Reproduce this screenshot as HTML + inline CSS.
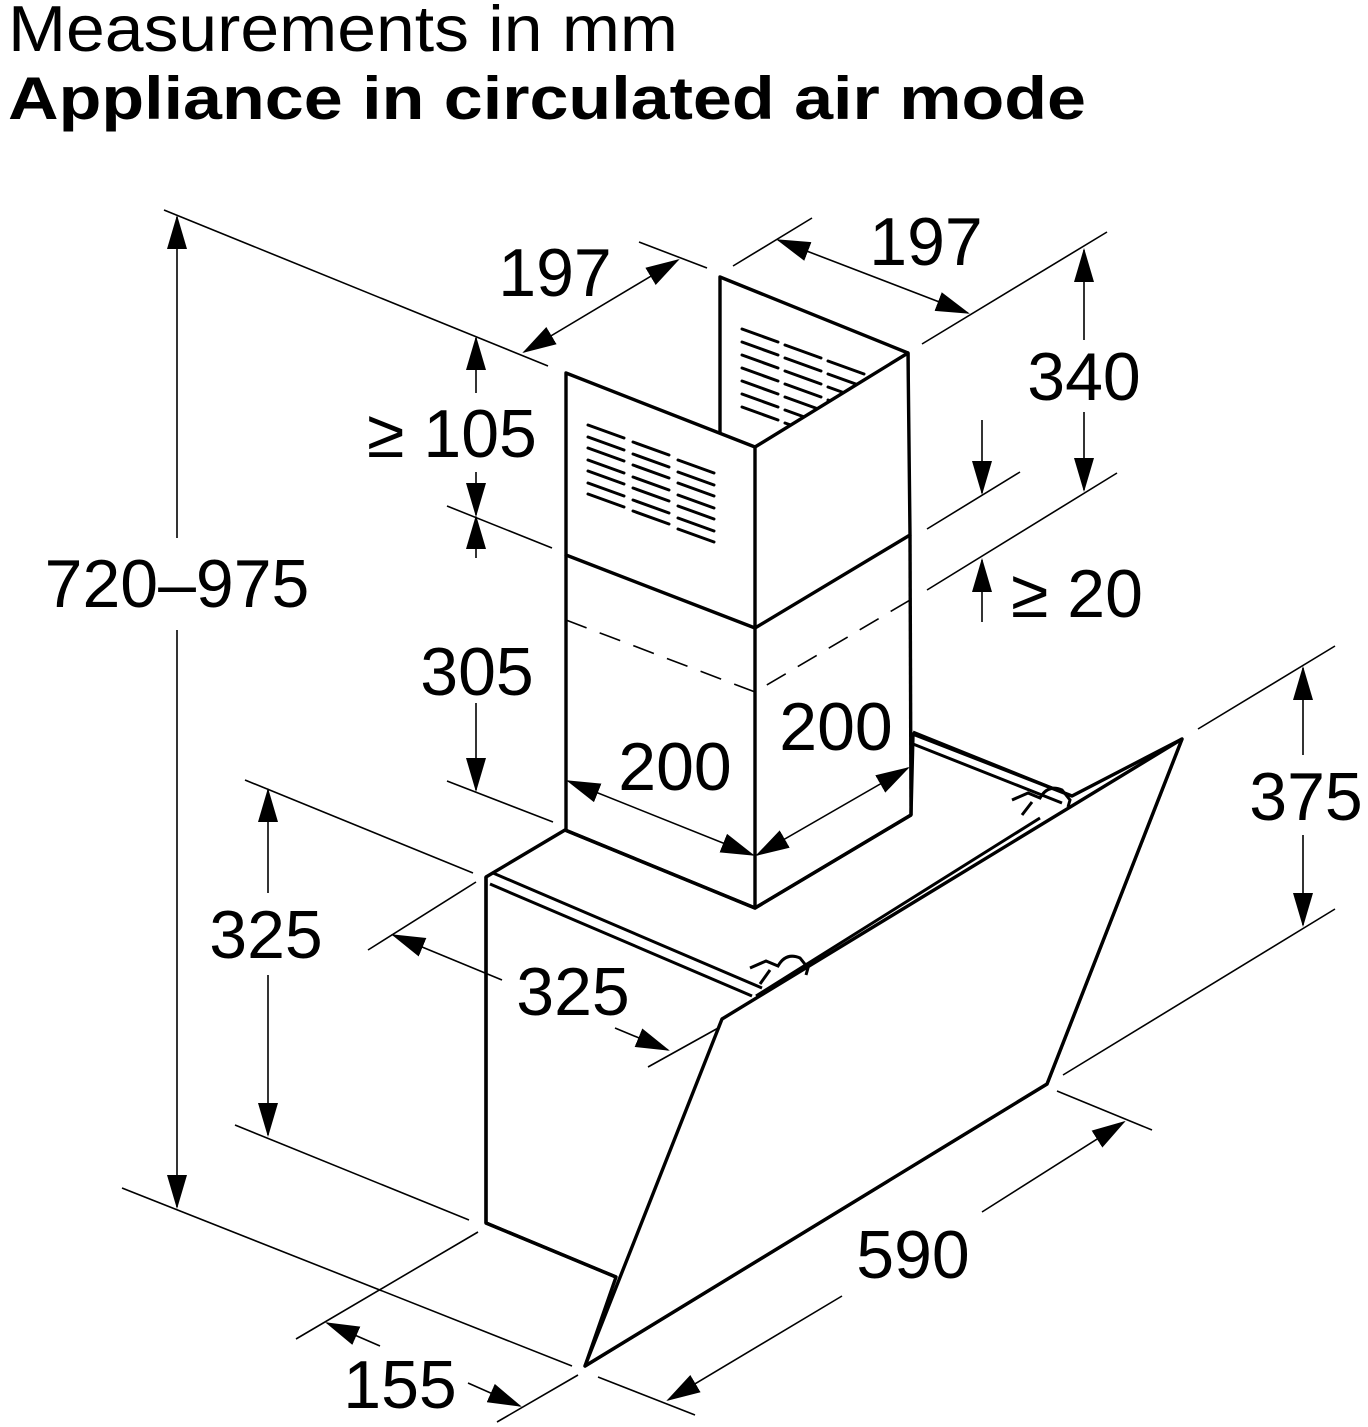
<!DOCTYPE html>
<html><head><meta charset="utf-8"><style>
html,body{margin:0;padding:0;background:#fff;}
svg{display:block;}
text{font-family:"Liberation Sans",sans-serif;fill:#000;}
</style></head><body>
<svg width="1368" height="1427" viewBox="0 0 1368 1427" xmlns="http://www.w3.org/2000/svg">
<defs>
<marker id="a" markerUnits="userSpaceOnUse" markerWidth="34" markerHeight="20" refX="32" refY="10" orient="auto-start-reverse" viewBox="0 0 34 20">
<path d="M0,0 L34,10 L0,20 Z" fill="#000"/>
</marker>
</defs>
<text x="8" y="51" font-size="65" textLength="670" lengthAdjust="spacingAndGlyphs">Measurements in mm</text>
<text x="8" y="119" font-size="60" font-weight="bold" textLength="1078" lengthAdjust="spacingAndGlyphs">Appliance in circulated air mode</text>

<!-- appliance -->
<g stroke="#000" stroke-width="3.4" fill="#fff" stroke-linejoin="round">
<polygon points="720,277 908,353 908,535 720,460"/>
</g>
<g stroke="#000" stroke-width="3" stroke-linecap="round">
<g id="vb">
<line x1="742" y1="329" x2="778" y2="342"/><line x1="742" y1="342" x2="778" y2="355"/>
<line x1="742" y1="355" x2="778" y2="368"/><line x1="742" y1="368" x2="778" y2="381"/>
<line x1="742" y1="381" x2="778" y2="394"/><line x1="742" y1="394" x2="778" y2="407"/>
<line x1="742" y1="407" x2="778" y2="420"/>
</g>
<use href="#vb" transform="translate(43,16)"/>
<use href="#vb" transform="translate(86,32)"/>
</g>
<g stroke="#000" stroke-width="3.4" fill="#fff" stroke-linejoin="round">
<polygon points="486,877 565,830 755,908 911,815 913,734 1072,796 1182,739 1047,1084 585,1366 616,1277 486,1223"/>
<polygon points="566,373 755,447 908,353 910,535 755,628 566,555"/>
<polyline points="566,555 566,830" fill="none"/>
<polyline points="755,628 755,908" fill="none"/>
<polyline points="910,535 911,815" fill="none"/>
<polyline points="755,447 755,628" fill="none"/>
<polyline points="565,830 755,908 911,815" fill="none"/>
<polyline points="486,877 486,1223 616,1277" fill="none"/>
<polygon points="722,1019 1182,739 1047,1084 585,1366"/>
</g>
<g stroke="#000" stroke-width="3" stroke-linecap="round">
<g id="vf">
<line x1="588" y1="425" x2="624" y2="438"/><line x1="588" y1="437" x2="624" y2="450"/>
<line x1="588" y1="448" x2="624" y2="461"/><line x1="588" y1="460" x2="624" y2="473"/>
<line x1="588" y1="471" x2="624" y2="484"/><line x1="588" y1="483" x2="624" y2="496"/>
<line x1="588" y1="494" x2="624" y2="507"/>
</g>
<use href="#vf" transform="translate(45,17)"/>
<use href="#vf" transform="translate(90,35)"/>
</g>
<polyline points="566,620 755,692 910,600" fill="none" stroke="#000" stroke-width="1.6" stroke-dasharray="22,14"/>
<g stroke="#000" stroke-width="3" fill="none">
<line x1="493" y1="873" x2="762" y2="988"/>
<line x1="490" y1="884" x2="752" y2="996"/>
<line x1="913" y1="732" x2="1072" y2="796"/>
<line x1="913" y1="744" x2="1062" y2="803"/>
<line x1="756" y1="996" x2="1040" y2="818"/>
<path d="M750,968 L766,961 L778,966 Q786,952 800,958 L808,968 L806,975"/>
<path d="M760,984 L770,970"/>
<path d="M1012,800 L1028,793 L1040,798 Q1048,784 1062,790 L1070,800 L1068,807"/>
<path d="M1022,815 L1032,802"/>
</g>

<g stroke="#000" stroke-width="1.6" fill="none">
<line x1="164" y1="210" x2="548" y2="366"/>
<line x1="122" y1="1188" x2="572" y2="1366"/>
<line x1="639" y1="242" x2="707" y2="268"/>
<line x1="733" y1="266" x2="812" y2="218"/>
<line x1="922" y1="344" x2="1107" y2="232"/>
<line x1="447" y1="506" x2="552" y2="548"/>
<line x1="447" y1="781" x2="553" y2="822"/>
<line x1="927" y1="529" x2="1020" y2="472"/>
<line x1="927" y1="590" x2="1117" y2="473"/>
<line x1="1198" y1="729" x2="1335" y2="646"/>
<line x1="1063" y1="1075" x2="1335" y2="909"/>
<line x1="245" y1="780" x2="473" y2="873"/>
<line x1="235" y1="1125" x2="469" y2="1220"/>
<line x1="368" y1="950" x2="476" y2="882"/>
<line x1="648" y1="1067" x2="720" y2="1027"/>
<line x1="1057" y1="1091" x2="1152" y2="1130"/>
<line x1="598" y1="1377" x2="695" y2="1415"/>
<line x1="296" y1="1339" x2="478" y2="1232"/>
<line x1="497" y1="1422" x2="578" y2="1375"/>

<line x1="177" y1="538" x2="177" y2="217" marker-end="url(#a)"/>
<line x1="177" y1="630" x2="177" y2="1207" marker-end="url(#a)"/>
<line x1="524" y1="352" x2="678" y2="260" marker-start="url(#a)" marker-end="url(#a)"/>
<line x1="778" y1="240" x2="968" y2="313" marker-start="url(#a)" marker-end="url(#a)"/>
<line x1="476" y1="393" x2="476" y2="338" marker-end="url(#a)"/>
<line x1="476" y1="472" x2="476" y2="515" marker-end="url(#a)"/>
<line x1="476" y1="558" x2="476" y2="517" marker-end="url(#a)"/>
<line x1="476" y1="703" x2="476" y2="790" marker-end="url(#a)"/>
<line x1="1084" y1="340" x2="1084" y2="250" marker-end="url(#a)"/>
<line x1="1084" y1="412" x2="1084" y2="490" marker-end="url(#a)"/>
<line x1="982" y1="420" x2="982" y2="493" marker-end="url(#a)"/>
<line x1="982" y1="622" x2="982" y2="560" marker-end="url(#a)"/>
<line x1="1303" y1="755" x2="1303" y2="668" marker-end="url(#a)"/>
<line x1="1303" y1="835" x2="1303" y2="925" marker-end="url(#a)"/>
<line x1="268" y1="893" x2="268" y2="790" marker-end="url(#a)"/>
<line x1="268" y1="975" x2="268" y2="1135" marker-end="url(#a)"/>
<line x1="502" y1="980" x2="393" y2="935" marker-end="url(#a)"/>
<line x1="615" y1="1028" x2="668" y2="1050" marker-end="url(#a)"/>
<line x1="568" y1="781" x2="753" y2="855" marker-start="url(#a)" marker-end="url(#a)"/>
<line x1="757" y1="855" x2="908" y2="768" marker-start="url(#a)" marker-end="url(#a)"/>
<line x1="842" y1="1296" x2="668" y2="1400" marker-end="url(#a)"/>
<line x1="982" y1="1212" x2="1124" y2="1122" marker-end="url(#a)"/>
<line x1="380" y1="1346" x2="327" y2="1323" marker-end="url(#a)"/>
<line x1="468" y1="1383" x2="520" y2="1406" marker-end="url(#a)"/>
</g>

<g font-size="68">
<text x="177" y="607" text-anchor="middle">720–975</text>
<text x="555" y="296" text-anchor="middle">197</text>
<text x="926" y="265" text-anchor="middle">197</text>
<text x="452" y="457" text-anchor="middle">≥ 105</text>
<text x="477" y="695" text-anchor="middle">305</text>
<text x="1084" y="400" text-anchor="middle">340</text>
<text x="1077" y="617" text-anchor="middle">≥ 20</text>
<text x="1306" y="820" text-anchor="middle">375</text>
<text x="675" y="790" text-anchor="middle">200</text>
<text x="836" y="750" text-anchor="middle">200</text>
<text x="266" y="958" text-anchor="middle">325</text>
<text x="573" y="1015" text-anchor="middle">325</text>
<text x="913" y="1278" text-anchor="middle">590</text>
<text x="400" y="1408" text-anchor="middle">155</text>
</g>
</svg>
</body></html>
